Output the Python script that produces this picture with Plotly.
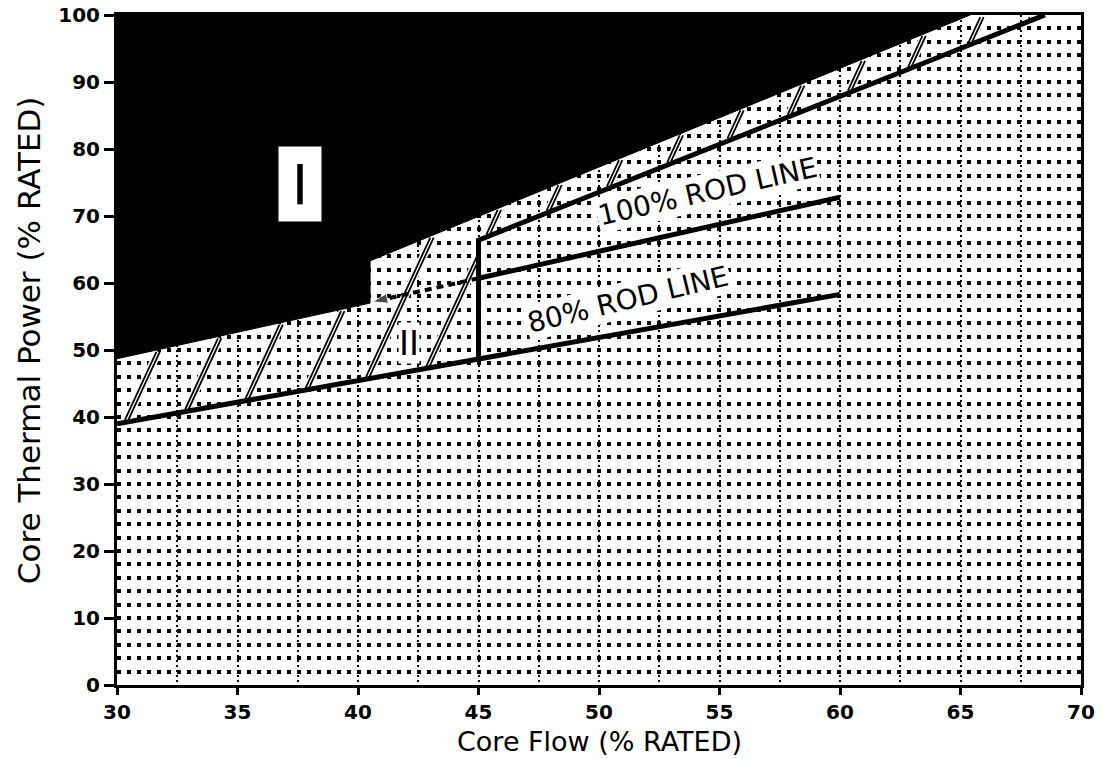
import numpy as np
import plotly.graph_objects as go

# ---- data (Core Flow % rated vs Core Thermal Power % rated) ----
x_ticks = [30, 35, 40, 45, 50, 55, 60, 65, 70]
y_ticks = [0, 10, 20, 30, 40, 50, 60, 70, 80, 90, 100]

# Region I (black) boundary
flow_region1 = [30, 40.5, 40.5, 65.4, 30]
power_region1 = [48.7, 57.0, 63.3, 100, 100]

# 80% rod line (extends down to 30% flow)
flow_rod80 = [30, 60]
power_rod80 = [39.0, 58.3]

# 100% rod line
flow_rod100 = [45, 60]
power_rod100 = [60.7, 72.8]

# vertical step at 45% flow and upper limit line
flow_limit = [45, 45, 68.5]
power_limit = [48.6, 66.4, 100]

# dashed arrow (Region II entry)
flow_arrow = [45, 40.6]
power_arrow = [60.7, 57.2]

# labels
label_I = (37.6, 74.8)
label_II = (42.1, 51.0)
label_100 = (54.5, 73.6)
label_80 = (51.2, 57.6)

FONT = "DejaVu Sans"

# ---- hatch styling of the band between Region I and the limit lines ----
HATCH_START, HATCH_STEP, HATCH_SLOPE, HATCH_GAP = 30.4, 2.5, 7.8, 0.14


def upper_edge(x):
    return np.interp(x, flow_region1[:4] + [70], power_region1[:4] + [100])


def lower_edge(x):
    return np.interp(x, [flow_rod80[0]] + flow_limit + [70],
                     [power_rod80[0]] + power_limit + [100])


def hatch_segments():
    hx_white, hy_white, hx_black, hy_black = [], [], [], []
    x0 = HATCH_START
    while x0 < flow_limit[2]:
        y0 = float(lower_edge(x0)) + 0.3
        ys = np.linspace(y0, 100, 3000)
        xs = x0 + (ys - y0) / HATCH_SLOPE
        inside = (ys < upper_edge(xs) - 0.3) & (ys >= lower_edge(xs)) & (xs <= 70)
        if inside.any():
            stop = np.argmax(~inside) if (~inside).any() else len(ys)
            if stop > 1:
                xa, ya, xb, yb = xs[0], ys[0], xs[stop - 1], ys[stop - 1]
                hx_white += [xa, xb, None]
                hy_white += [ya, yb, None]
                for off in (-HATCH_GAP / 2, HATCH_GAP / 2):
                    hx_black += [xa + off, xb + off, None]
                    hy_black += [ya, yb, None]
        x0 += HATCH_STEP
    return hx_white, hy_white, hx_black, hy_black


fig = go.Figure()

hxw, hyw, hxb, hyb = hatch_segments()
fig.add_trace(go.Scatter(x=hxw, y=hyw, mode="lines", line=dict(color="white", width=8),
                         hoverinfo="skip", showlegend=False))
fig.add_trace(go.Scatter(x=hxb, y=hyb, mode="lines", line=dict(color="black", width=1.8),
                         hoverinfo="skip", showlegend=False))

# Region I black fill
fig.add_trace(go.Scatter(
    x=flow_region1, y=power_region1, fill="toself", mode="lines",
    line=dict(width=1, color="black"), fillcolor="black",
    hoverinfo="skip", showlegend=False))

# thick lines
for fx, py in [(flow_rod80, power_rod80), (flow_rod100, power_rod100), (flow_limit, power_limit)]:
    fig.add_trace(go.Scatter(x=fx, y=py, mode="lines",
                             line=dict(color="black", width=5),
                             hoverinfo="skip", showlegend=False))

# dashed arrow
fig.add_trace(go.Scatter(
    x=flow_arrow, y=power_arrow, mode="lines+markers",
    line=dict(color="black", width=4, dash="7px,5px"),
    marker=dict(symbol="arrow", angleref="previous", size=[0, 16], color="black"),
    hoverinfo="skip", showlegend=False))

# annotations
fig.add_annotation(x=label_I[0], y=label_I[1], text="I", showarrow=False,
                   font=dict(family=FONT, size=56, color="black"),
                   bgcolor="white", width=40, height=72)
fig.add_annotation(x=label_II[0], y=label_II[1], text="II", showarrow=False,
                   font=dict(family=FONT, size=34, color="black"),
                   bgcolor="white", borderpad=0)
fig.add_annotation(x=label_100[0], y=label_100[1], text="100% ROD LINE", showarrow=False,
                   font=dict(family=FONT, size=28, color="black"),
                   bgcolor="white", textangle=-12.8, borderpad=1)
fig.add_annotation(x=label_80[0], y=label_80[1], text="80% ROD LINE", showarrow=False,
                   font=dict(family=FONT, size=28, color="black"),
                   bgcolor="white", textangle=-13.5, borderpad=1)

# axis titles
fig.add_annotation(xref="paper", yref="paper", x=0.5, y=-0.0836, text="Core Flow (% RATED)",
                   showarrow=False, xanchor="center", yanchor="middle", borderpad=0,
                   font=dict(family=FONT, size=27, color="black"))
fig.add_annotation(xref="paper", yref="paper", x=-0.091, y=0.515, text="Core Thermal Power (% RATED)",
                   showarrow=False, xanchor="center", yanchor="middle", textangle=-90,
                   font=dict(family=FONT, size=31, color="black"))

dot_x = dict(showgrid=True, gridcolor="black", gridwidth=2, griddash="2px,3px")
dot_y = dict(showgrid=True, gridcolor="black", gridwidth=3.5, griddash="3.5px,6.5px")

fig.update_layout(
    width=1101, height=759,
    margin=dict(l=117, r=20, t=15, b=74, autoexpand=False),
    paper_bgcolor="white", plot_bgcolor="white",
    showlegend=False,
    xaxis=dict(
        range=[30, 70], tickvals=x_ticks, ticktext=[str(v) for v in x_ticks],
        ticks="outside", ticklen=7, tickwidth=3, tickcolor="black",
        showline=True, linewidth=3, linecolor="black", mirror=True, zeroline=False,
        automargin=False,
        tickfont=dict(family=FONT, size=20, color="black", weight="bold"),
        minor=dict(dtick=2.5, tick0=30, **dot_x), **dot_x,
    ),
    yaxis=dict(
        range=[0, 100], tickvals=y_ticks, ticktext=[str(v) for v in y_ticks],
        ticks="outside", ticklen=10, tickwidth=3, tickcolor="black",
        showline=True, linewidth=3, linecolor="black", mirror=True, zeroline=False,
        automargin=False,
        tickfont=dict(family=FONT, size=20, color="black", weight="bold"),
        minor=dict(dtick=2, tick0=0, **dot_y), **dot_y,
    ),
)

fig.write_html("out.html", config={"displayModeBar": False},
               post_script="document.body.style.margin='0';")
